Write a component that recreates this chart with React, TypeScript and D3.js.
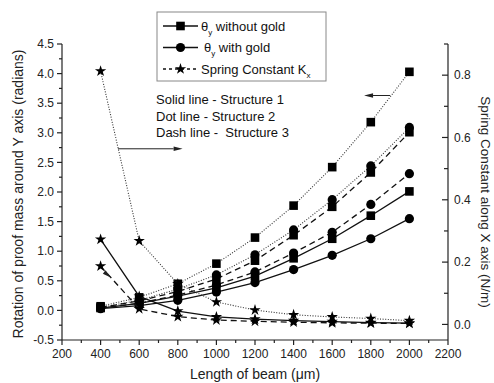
import * as d3 from "d3";

// beam length (µm)
const lengths = [400, 600, 800, 1000, 1200, 1400, 1600, 1800, 2000];

// rotation θy (radians), left axis
const s1WithoutGold = [0.04, 0.12, 0.24, 0.38, 0.58, 0.88, 1.21, 1.6, 2.01];
const s1WithGold = [0.03, 0.08, 0.17, 0.31, 0.47, 0.69, 0.93, 1.21, 1.55];
const s2WithoutGold = [0.07, 0.22, 0.45, 0.79, 1.23, 1.77, 2.42, 3.18, 4.03];
const s2WithGold = [0.05, 0.17, 0.36, 0.6, 0.94, 1.36, 1.87, 2.44, 3.09];
const s3WithoutGold = [0.05, 0.16, 0.32, 0.53, 0.84, 1.27, 1.75, 2.33, 3.01];
const s3WithGold = [0.04, 0.12, 0.26, 0.43, 0.65, 0.97, 1.32, 1.79, 2.31];

// spring constant Kx (N/m), right axis
const s1Spring = [0.273, 0.09, 0.043, 0.024, 0.017, 0.012, 0.009, 0.006, 0.004];
const s2Spring = [0.813, 0.268, 0.13, 0.072, 0.046, 0.031, 0.024, 0.019, 0.012];
const s3Spring = [0.187, 0.05, 0.025, 0.014, 0.01, 0.007, 0.005, 0.004, 0.003];

const xTicks = [200, 400, 600, 800, 1000, 1200, 1400, 1600, 1800, 2000, 2200];
const yLeftTicks = [-0.5, 0, 0.5, 1, 1.5, 2, 2.5, 3, 3.5, 4, 4.5];
const yRightTicks = [0, 0.2, 0.4, 0.6, 0.8];

const notes = ["Solid line - Structure 1", "Dot line - Structure 2", "Dash line -  Structure 3"];

const W = 494;
const H = 383;
const FONT = "Arial, 'Liberation Sans', sans-serif";

const x = d3.scaleLinear().domain([200, 2200]).range([62, 448]);
const yL = d3.scaleLinear().domain([-0.5, 4.5]).range([340, 44]);
const yR = d3.scaleLinear().domain([-0.05, 0.9]).range([340, 44]);

const DOT = "1,1.6";
const DASH = "6,4";

type Marker = "square" | "circle" | "star";
interface Series {
  values: number[];
  axis: "left" | "right";
  dash: string | null;
  marker: Marker;
}

const series: Series[] = [
  { values: s2WithoutGold, axis: "left", dash: DOT, marker: "square" },
  { values: s2WithGold, axis: "left", dash: DOT, marker: "circle" },
  { values: s3WithoutGold, axis: "left", dash: DASH, marker: "square" },
  { values: s3WithGold, axis: "left", dash: DASH, marker: "circle" },
  { values: s1WithoutGold, axis: "left", dash: null, marker: "square" },
  { values: s1WithGold, axis: "left", dash: null, marker: "circle" },
  { values: s2Spring, axis: "right", dash: DOT, marker: "star" },
  { values: s1Spring, axis: "right", dash: null, marker: "star" },
  { values: s3Spring, axis: "right", dash: DASH, marker: "star" },
];

const starPath = d3.symbol().type(d3.symbolStar).size(40)() as string;

function MarkerShape({ type, cx, cy }: { type: Marker; cx: number; cy: number }) {
  if (type === "square") return <rect x={cx - 4.3} y={cy - 4.3} width={8.6} height={8.6} fill="#000" />;
  if (type === "circle") return <circle cx={cx} cy={cy} r={4.6} fill="#000" />;
  return <path d={starPath} transform={`translate(${cx},${cy})`} fill="#000" />;
}

function Arrow({ x1, y1, x2, y2 }: { x1: number; y1: number; x2: number; y2: number }) {
  const a = Math.atan2(y2 - y1, x2 - x1);
  const len = 9;
  const hw = 2.2;
  const bx = x2 - len * Math.cos(a);
  const by = y2 - len * Math.sin(a);
  const px = -Math.sin(a) * hw;
  const py = Math.cos(a) * hw;
  return (
    <g>
      <line x1={x1} y1={y1} x2={bx} y2={by} stroke="#222" strokeWidth={1} />
      <path d={`M${x2},${y2}L${bx + px},${by + py}L${bx - px},${by - py}Z`} fill="#222" />
    </g>
  );
}

export default function App() {
  const line = (ys: d3.ScaleLinear<number, number>) =>
    d3
      .line<number>()
      .x((_, i) => x(lengths[i]))
      .y((d) => ys(d));

  const xMinor = d3.range(300, 2200, 200);
  const yLMinor = d3.range(-0.25, 4.5, 0.5);
  const yRMinor = [0.1, 0.3, 0.5, 0.7, 0.9];

  const legendItems: { label: string; sub: string; rest: string; marker: Marker; dash: string | null }[] = [
    { label: "θ", sub: "y", rest: " without gold", marker: "square", dash: null },
    { label: "θ", sub: "y", rest: " with gold", marker: "circle", dash: null },
    { label: "", sub: "", rest: "Spring Constant K", marker: "star", dash: "3,3" },
  ];

  return (
    <svg
      width={W}
      height={H}
      style={{ position: "absolute", left: 0, top: 0, background: "#fff" }}
      fontFamily={FONT}
    >
      {/* axes */}
      <g stroke="#222" strokeWidth={1.2} fill="none">
        <line x1={x(200)} x2={x(200)} y1={yL(4.5)} y2={yL(-0.5)} />
        <line x1={x(200)} x2={x(2200)} y1={yL(-0.5)} y2={yL(-0.5)} />
        <line x1={x(2200)} x2={x(2200)} y1={yR(0.9)} y2={yR(-0.05)} />
        {yLeftTicks.map((t) => (
          <line key={`yl${t}`} x1={x(200) - 5} x2={x(200)} y1={yL(t)} y2={yL(t)} />
        ))}
        {yLMinor.map((t) => (
          <line key={`ylm${t}`} x1={x(200) - 3} x2={x(200)} y1={yL(t)} y2={yL(t)} />
        ))}
        {xTicks.map((t) => (
          <line key={`x${t}`} x1={x(t)} x2={x(t)} y1={yL(-0.5)} y2={yL(-0.5) + 5} />
        ))}
        {xMinor.map((t) => (
          <line key={`xm${t}`} x1={x(t)} x2={x(t)} y1={yL(-0.5)} y2={yL(-0.5) + 3} />
        ))}
        {yRightTicks.map((t) => (
          <line key={`yr${t}`} x1={x(2200) - 6} x2={x(2200)} y1={yR(t)} y2={yR(t)} />
        ))}
        {yRMinor.map((t) => (
          <line key={`yrm${t}`} x1={x(2200) - 4} x2={x(2200)} y1={yR(t)} y2={yR(t)} />
        ))}
      </g>

      {/* tick labels */}
      <g fontSize={12} fill="#222">
        {yLeftTicks.map((t) => (
          <text key={`tl${t}`} x={x(200) - 8} y={yL(t)} dy="0.35em" textAnchor="end">
            {t.toFixed(1)}
          </text>
        ))}
        {xTicks.map((t) => (
          <text key={`tx${t}`} x={x(t)} y={yL(-0.5) + 18} textAnchor="middle">
            {t}
          </text>
        ))}
        {yRightTicks.map((t) => (
          <text key={`tr${t}`} x={x(2200) + 6} y={yR(t)} dy="0.35em" textAnchor="start">
            {t.toFixed(1)}
          </text>
        ))}
      </g>

      {/* axis titles */}
      <g fontSize={14} fill="#222">
        <text x={255} y={379} textAnchor="middle">
          Length of beam (μm)
        </text>
        <text
          transform="translate(18,194) rotate(-90)"
          textAnchor="middle"
          dominantBaseline="central"
        >
          Rotation of proof mass around Y axis (radians)
        </text>
        <text
          transform="translate(485,202) rotate(90)"
          textAnchor="middle"
          dominantBaseline="central"
          fontSize={13.5}
        >
          Spring Constant along X axis (N/m)
        </text>
      </g>

      {/* series */}
      {series.map((s, i) => {
        const ys = s.axis === "left" ? yL : yR;
        return (
          <g key={i}>
            <path
              d={line(ys)(s.values) ?? ""}
              fill="none"
              stroke={s.dash === DOT ? "#333" : "#111"}
              strokeWidth={s.dash === DOT ? 1.1 : 1.3}
              strokeDasharray={s.dash ?? undefined}
            />
            {s.values.map((v, j) => (
              <MarkerShape key={j} type={s.marker} cx={x(lengths[j])} cy={ys(v)} />
            ))}
          </g>
        );
      })}

      {/* annotation arrows */}
      <Arrow x1={x(1900)} y1={yL(3.63)} x2={x(1765)} y2={yL(3.63)} />
      <Arrow x1={x(490)} y1={yL(2.73)} x2={x(825)} y2={yL(2.73)} />
      <Arrow x1={x(425)} y1={yR(0.165)} x2={x(455)} y2={yR(0.15)} />

      {/* notes */}
      <g fontSize={13} fill="#111">
        {notes.map((n, i) => (
          <text key={n} x={156} y={104 + i * 16.5} style={{ whiteSpace: "pre" }}>
            {n}
          </text>
        ))}
      </g>

      {/* legend */}
      <g>
        <rect x={157} y={12} width={169} height={69} fill="#fff" stroke="#888" strokeWidth={1} />
        {legendItems.map((it, i) => {
          const cy = 26 + i * 21.5;
          return (
            <g key={i}>
              <line
                x1={163}
                x2={198}
                y1={cy}
                y2={cy}
                stroke="#111"
                strokeWidth={1.3}
                strokeDasharray={it.dash ?? undefined}
              />
              <MarkerShape type={it.marker} cx={180.5} cy={cy} />
              <text x={i === 1 ? 204 : 201} y={cy} dy="0.35em" fontSize={13} fill="#111" style={{ whiteSpace: "pre" }}>
                {it.label}
                {it.sub && (
                  <tspan fontSize={8} dy="4">
                    {it.sub}
                  </tspan>
                )}
                {it.sub ? (
                  <tspan dy="-4">{it.rest}</tspan>
                ) : (
                  <>
                    {it.rest}
                    <tspan fontSize={8} dy="4">
                      x
                    </tspan>
                  </>
                )}
              </text>
            </g>
          );
        })}
      </g>
    </svg>
  );
}
